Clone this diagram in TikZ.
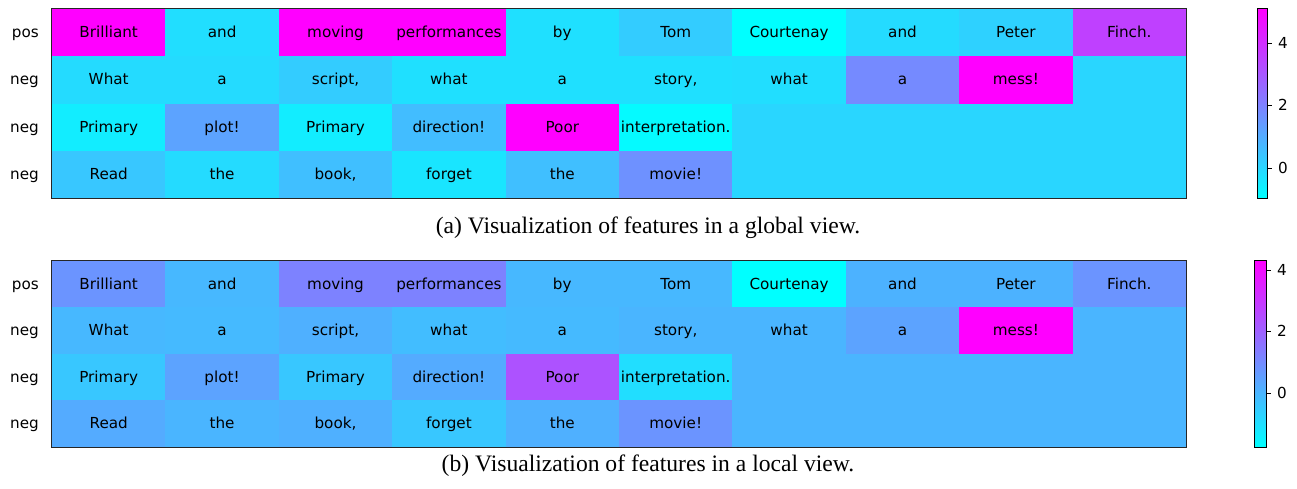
\documentclass[tikz,border=0pt]{standalone}
\usepackage{fontspec}
\setsansfont{DejaVu Sans}
\newfontfamily\capfont{Liberation Serif}
\begin{document}
\begin{tikzpicture}[x=1pt,y=-1pt,
  lbl/.style={font=\sffamily\fontsize{15.2}{18}\selectfont,text=black,
    text height=13pt,text depth=2.8pt},
  cell/.style={lbl,draw=none,inner sep=0pt,minimum width=113.4pt},
  rowlab/.style={lbl,anchor=east,inner sep=0pt},
  ticklab/.style={lbl,anchor=west,inner sep=0pt},
  frame/.style={draw=black!85,line width=1.1pt},
  cbframe/.style={draw=black,line width=1pt},
  tickmark/.style={draw=black,line width=0.8pt},
  caption/.style={inner sep=0pt,anchor=base,font=\capfont\fontsize{23.6}{26}\selectfont}]
\definecolor{coolA}{rgb}{0,1,1}
\definecolor{coolB}{rgb}{1,0,1}
\useasboundingbox (0,0) rectangle (1297,489);

% one row of the heat map: panel, row, centre y, height, label, word/value list
\newcommand{\heatrow}[6]{%
  \foreach \wrd/\tv [count=\ci] in {#6} {%
    \pgfmathsetmacro\uv{1-\tv}%
    \definecolor{cc}{rgb}{\tv,\uv,1}%
    \node[cell,fill=cc,minimum height=#4pt] (#1-#2-\ci) at ({52+113.4*(\ci-0.5)},#3) {\wrd};
  }%
  \node[rowlab] (#1-lab-#2) at (39,#3) {#5};
}

% ---- global view ----
\heatrow{a}{1}{32.6}{47.3}{pos}{Brilliant/1,and/0.13,moving/1,performances/1,by/0.12,Tom/0.2,Courtenay/0,and/0.14,Peter/0.18,Finch./0.75}
\heatrow{a}{2}{79.9}{47.3}{neg}{What/0.14,a/0.14,{script,}/0.2,what/0.12,a/0.12,{story,}/0.12,what/0.13,a/0.46,mess!/1,{}/0.16}
\heatrow{a}{3}{127.2}{47.3}{neg}{Primary/0.07,plot!/0.36,Primary/0.07,direction!/0.26,Poor/1,interpretation./0.02,{}/0.16,{}/0.16,{}/0.16,{}/0.16}
\heatrow{a}{4}{174.5}{47.3}{neg}{Read/0.22,the/0.14,{book,}/0.25,forget/0.1,the/0.25,movie!/0.43,{}/0.16,{}/0.16,{}/0.16,{}/0.16}
\draw[frame] (a-1-1.north west) rectangle (a-4-10.south east);

% colour bar of the global view
\coordinate (acb-bl) at (1257,198);
\coordinate (acb-tr) at (1267,9);
\shade[bottom color=coolA,top color=coolB] (acb-bl) rectangle (acb-tr);
\draw[cbframe] (acb-bl) rectangle (acb-tr);
\foreach \v/\yy in {4/43,2/105.5,0/168} {
  \coordinate (acb-t\v) at (1267,\yy);
  \node[ticklab] (acb-l\v) at (1278,\yy) {\v};
  \draw[tickmark] (acb-t\v) -- ++(4.5,0);
}

\node[caption] (cap-a) at (648,233.5) {(a) Visualization of features in a global view.};

% ---- local view ----
\heatrow{b}{1}{284.2}{46.5}{pos}{Brilliant/0.42,and/0.28,moving/0.49,performances/0.49,by/0.28,Tom/0.28,Courtenay/0,and/0.3,Peter/0.3,Finch./0.42}
\heatrow{b}{2}{330.7}{46.5}{neg}{What/0.28,a/0.27,{script,}/0.31,what/0.26,a/0.27,{story,}/0.29,what/0.29,a/0.36,mess!/1,{}/0.29}
\heatrow{b}{3}{377.2}{46.5}{neg}{Primary/0.22,plot!/0.36,Primary/0.22,direction!/0.33,Poor/0.68,interpretation./0.13,{}/0.29,{}/0.29,{}/0.29,{}/0.29}
\heatrow{b}{4}{423.7}{46.5}{neg}{Read/0.33,the/0.29,{book,}/0.31,forget/0.22,the/0.31,movie!/0.42,{}/0.29,{}/0.29,{}/0.29,{}/0.29}
\draw[frame] (b-1-1.north west) rectangle (b-4-10.south east);

% colour bar of the local view
\coordinate (bcb-bl) at (1254,447);
\coordinate (bcb-tr) at (1266,260);
\shade[bottom color=coolA,top color=coolB] (bcb-bl) rectangle (bcb-tr);
\draw[cbframe] (bcb-bl) rectangle (bcb-tr);
\foreach \v/\yy in {4/270,2/331.5,0/393} {
  \coordinate (bcb-t\v) at (1266,\yy);
  \node[ticklab] (bcb-l\v) at (1277,\yy) {\v};
  \draw[tickmark] (bcb-t\v) -- ++(4.5,0);
}

\node[caption] (cap-b) at (648,471) {(b) Visualization of features in a local view.};
\end{tikzpicture}
\end{document}
